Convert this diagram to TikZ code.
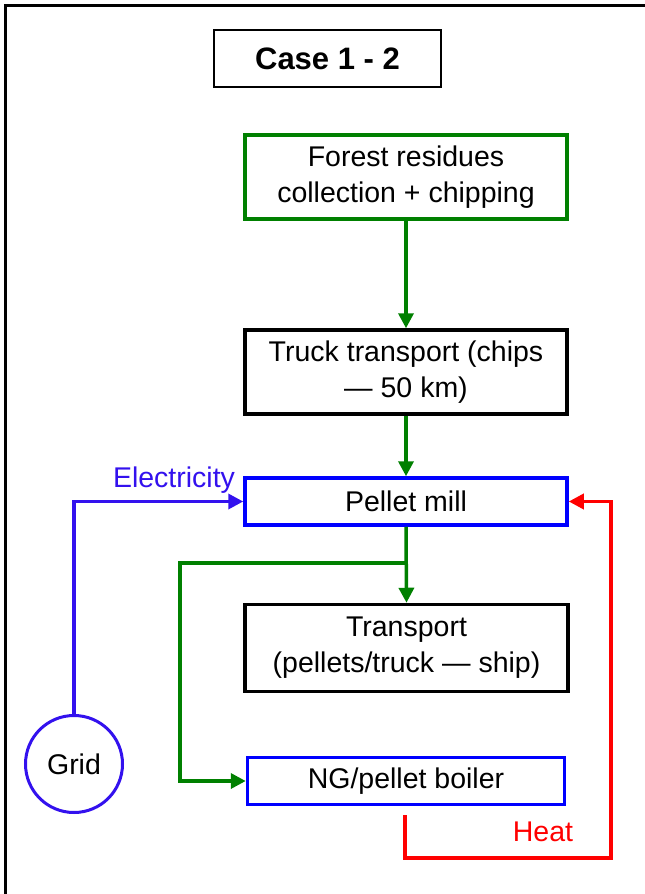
\documentclass[tikz,border=0pt]{standalone}
\usepackage{fontspec}
\setmainfont{Liberation Sans}
\usepackage{tikz}
\usetikzlibrary{arrows.meta,positioning,shapes.geometric}
\definecolor{flowgreen}{RGB}{0,128,0}
\definecolor{gridblue}{RGB}{51,17,238}
\definecolor{boxblue}{RGB}{0,0,255}
\definecolor{heatred}{RGB}{255,0,0}

\tikzset{
  procbox/.style={draw, line width=3.5pt, align=center, inner sep=0pt,
    font=\fontsize{28.5}{36}\selectfont},
  flow/.style={line width=3.5pt, -{Triangle[length=15pt,width=15pt]}},
}

\begin{document}
\begin{tikzpicture}[x=1pt,y=1pt,yscale=-1,xscale=1]
\useasboundingbox (0,0) rectangle (645,894);

%Frame
\draw[line width=3pt] (5,894) -- (5,5) -- (645,5);

%Title
\node[procbox, line width=2.5pt, minimum width=227pt, minimum height=57pt,
  font=\fontsize{31}{36}\selectfont\bfseries] (case) at (327.5,58.5) {Case 1 - 2};

%Process boxes
\node[procbox, draw=flowgreen, minimum width=322pt, minimum height=84pt] (forest) at (406,177)
  {Forest residues\\collection + chipping};
\node[procbox, minimum width=322pt, minimum height=84pt] (truck) at (406,372)
  {Truck transport (chips\\— 50 km)};
\node[procbox, draw=boxblue, minimum width=322pt, minimum height=47pt] (mill) at (406,501.5)
  {Pellet mill};
\node[procbox, minimum width=323pt, minimum height=87pt] (transport) at (406.5,648)
  {Transport\\(pellets/truck — ship)};
\node[procbox, draw=boxblue, minimum width=317pt, minimum height=47pt] (boiler) at (406,781)
  {NG/pellet boiler};
\node[procbox, circle, draw=gridblue, line width=3pt, minimum size=97pt] (grid) at (74,764)
  {Grid};

%Biomass flow
\draw[flow, flowgreen] (forest.south) -- (truck.north);
\draw[flow, flowgreen] (truck.south) -- (mill.north);
\draw[flow, flowgreen] (mill.south) -- (transport.north);
\coordinate (split) at (406,563);
\coordinate (bendL) at (180,563);
\draw[flow, flowgreen] (split) -- (bendL) |- (boiler.west);

%Electricity
\draw[flow, gridblue] (grid.north) |- (mill.west);
\node[text=gridblue, font=\fontsize{28.5}{32}\selectfont, inner sep=0pt] (elec) at (174,480) {Electricity};

%Heat
\coordinate (heatS) at (405,815);
\coordinate (heatR) at (611,858);
\draw[flow, heatred] (heatS) |- (heatR) |- (mill.east);
\node[text=heatred, font=\fontsize{28.5}{32}\selectfont, inner sep=0pt] (heat) at (543,832) {Heat};

\end{tikzpicture}
\end{document}
